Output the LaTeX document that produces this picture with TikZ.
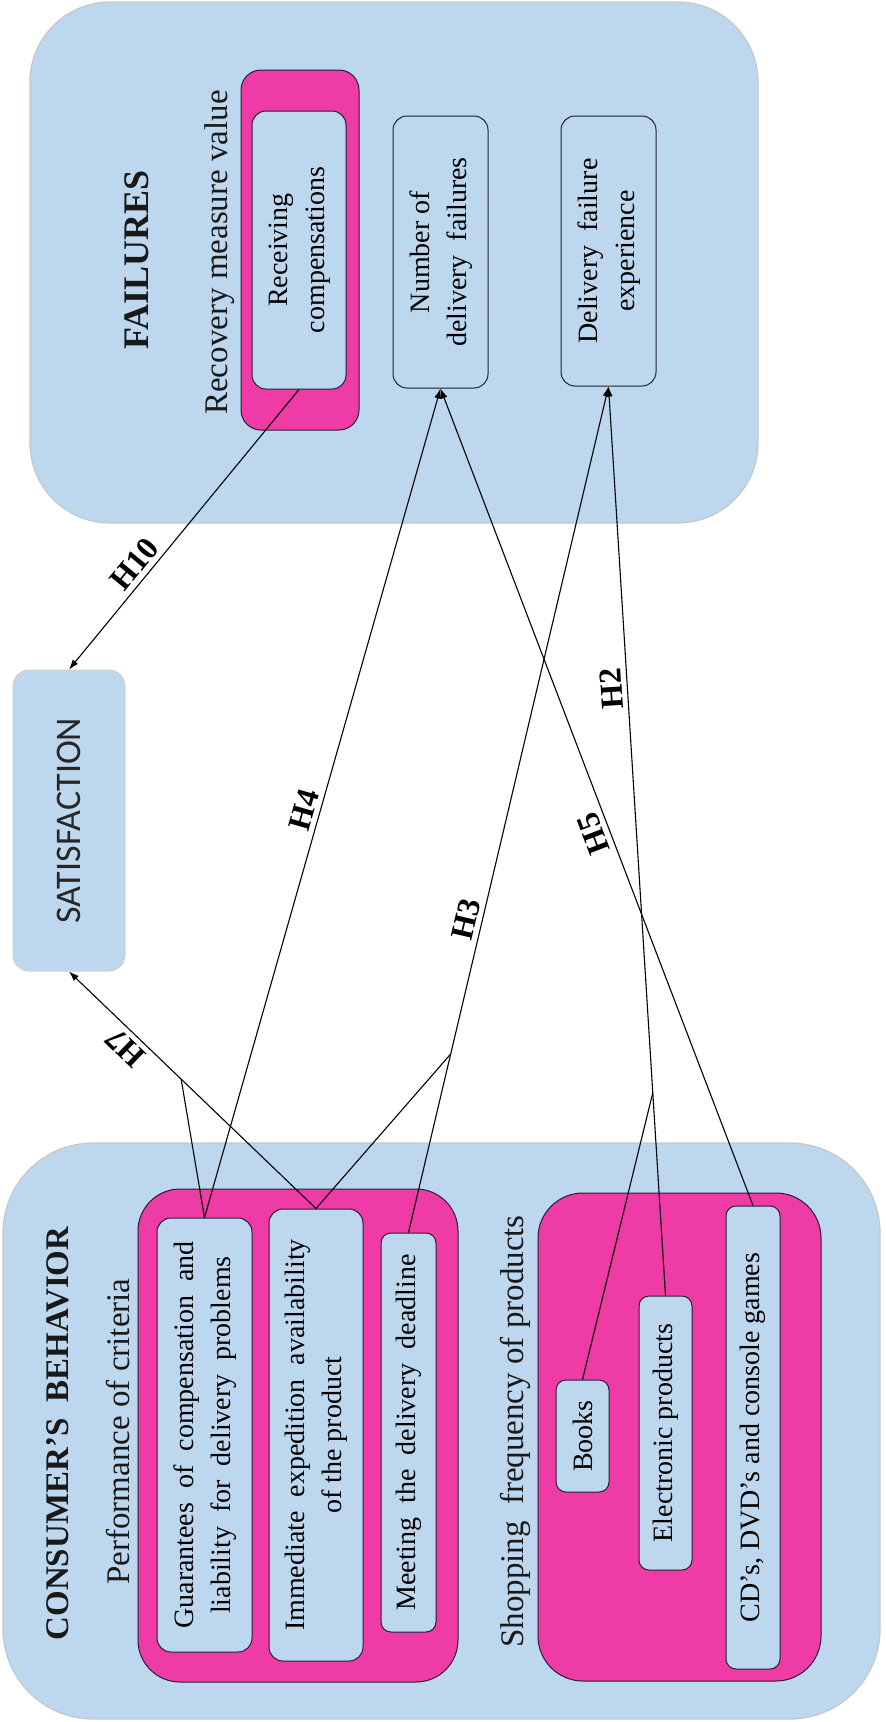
\documentclass[tikz,border=0pt]{standalone}
\usepackage{fontspec}
\setmainfont{Liberation Serif}
\newfontfamily\satfont{Carlito}
\usepackage{graphicx}
\usetikzlibrary{arrows.meta}

\newlength{\du}
\setlength{\du}{1pt}

\definecolor{panelblue}{RGB}{189,215,238}
\definecolor{grouppink}{RGB}{239,59,165}
\definecolor{edgedark}{RGB}{35,30,50}
\definecolor{textdark}{RGB}{25,25,25}

\tikzset{
  panelbox/.style={rectangle, rounded corners=80\du, fill=panelblue, draw=black!22, line width=1.2\du, inner sep=0pt},
  groupbox/.style={rectangle, rounded corners=42\du, fill=grouppink, draw=edgedark, line width=1\du, inner sep=0pt},
  itembox/.style={rectangle, rounded corners=14\du, fill=panelblue, draw=edgedark, line width=1\du, inner sep=0pt, text=black, font=\fontsize{28}{37}\selectfont},
  caption/.style={inner sep=0pt, text=textdark, font=\fontsize{33}{40}\selectfont},
  headline/.style={inner sep=0pt, text=textdark, font=\fontsize{33}{40}\selectfont\bfseries},
  hyplabel/.style={anchor=south, inner sep=5\du, font=\fontsize{32}{36}\selectfont\bfseries},
  hyparrow/.style={line width=1.1\du, -{Latex[length=10pt,width=7pt]}},
  hypmerge/.style={line width=1.1\du},
}

\begin{document}
\begin{tikzpicture}
\pgftransformxscale{1.000000}
\pgftransformyscale{-1.000000}
\useasboundingbox (0\du,0\du) rectangle (886\du,1722\du);
% failures side
\node[panelbox, minimum width=728\du, minimum height=521\du] (failpanel) at (394\du,262.5\du) {};
\node[headline, font=\fontsize{36}{40}\selectfont\bfseries] (failtitle) at (137\du,260\du) {\rotatebox{90}{FAILURES}};
\node[caption] (recovlabel) at (220\du,252.5\du) {\rotatebox{90}{Recovery measure value}};
\node[groupbox, rounded corners=20\du, minimum width=118\du, minimum height=360\du] (recovgroup) at (300\du,250\du) {};
\node[itembox, minimum width=94\du, minimum height=278\du] (receiving) at (299\du,250\du) {\rotatebox{90}{\begin{tabular}{@{}c@{}}Receiving\\compensations\end{tabular}}};
\node[itembox, minimum width=95\du, minimum height=272\du] (numfail) at (440.5\du,252\du) {\rotatebox{90}{\begin{tabular}{@{}c@{}}Number of\\delivery\ \ failures\end{tabular}}};
\node[itembox, minimum width=95\du, minimum height=270\du] (deliv) at (608.5\du,251\du) {\rotatebox{90}{\begin{tabular}{@{}c@{}}Delivery\ \ failure\\experience\end{tabular}}};
% satisfaction
\node[rectangle, rounded corners=16\du, fill=panelblue, draw=black!18, line width=1\du, inner sep=0pt, minimum width=112\du, minimum height=301\du, text=black!85, font=\satfont\fontsize{36}{40}\selectfont] (satisf) at (69\du,820.5\du) {\rotatebox{90}{SATISFACTION}};
% consumer side
\node[panelbox, rounded corners=90\du, minimum width=877\du, minimum height=576\du] (conspanel) at (441.5\du,1431\du) {};
\node[headline] (constitle) at (58\du,1433.5\du) {\rotatebox{90}{CONSUMER’S\ \ BEHAVIOR}};
\node[caption] (perflabel) at (118\du,1431.5\du) {\rotatebox{90}{Performance of criteria}};
\node[groupbox, minimum width=320\du, minimum height=493\du] (perfgroup) at (298\du,1435.5\du) {};
\node[itembox, minimum width=95\du, minimum height=434\du] (guar) at (204.5\du,1435\du) {\rotatebox{90}{\begin{tabular}{@{}c@{}}Guarantees\ \ of\ \ compensation\ \ and\\liability\ \ for\ \ delivery\ \ problems\end{tabular}}};
\node[itembox, minimum width=94\du, minimum height=452\du] (immed) at (316\du,1435\du) {\rotatebox{90}{\begin{tabular}{@{}c@{}}Immediate\ \ expedition\ \ availability\\of the product\end{tabular}}};
\node[itembox, rounded corners=10\du, minimum width=55\du, minimum height=399\du] (meet) at (408.5\du,1432.5\du) {\rotatebox{90}{Meeting\ \ the\ \ delivery\ \ deadline}};
\node[caption] (shoplabel) at (515\du,1431.5\du) {\rotatebox{90}{Shopping\ \ frequency of products}};
\node[groupbox, rounded corners=45\du, minimum width=283\du, minimum height=488\du] (shopgroup) at (679.5\du,1437\du) {};
\node[itembox, rounded corners=10\du, minimum width=53\du, minimum height=112\du] (books) at (582.5\du,1436\du) {\rotatebox{90}{Books}};
\node[itembox, rounded corners=10\du, minimum width=53\du, minimum height=274\du] (elec) at (665.5\du,1433\du) {\rotatebox{90}{Electronic products}};
\node[itembox, rounded corners=10\du, minimum width=54\du, minimum height=463\du] (cds) at (753\du,1437.5\du) {\rotatebox{90}{CD’s, DVD’s and console games}};
% hypotheses
\draw[hyparrow] (receiving.south) -- node[hyplabel, pos=0.661, rotate=50.7] (h10) {H10} (satisf.north);
\draw[hyparrow] (immed.north) -- coordinate[pos=0.546] (m7) node[hyplabel, pos=0.725, rotate=136.1] (h7) {H7} (satisf.south);
\draw[hypmerge] (guar.north) -- (m7);
\draw[hyparrow] (guar.north) -- node[hyplabel, pos=0.486, rotate=74.2] (h4) {H4} (numfail.south);
\draw[hyparrow] (cds.north) -- node[hyplabel, pos=0.462, rotate=110.9] (h5) {H5} (numfail.south);
\draw[hyparrow] (meet.north) -- coordinate[pos=0.211] (m3) node[hyplabel, pos=0.366, rotate=76.7] (h3) {H3} (deliv.south);
\draw[hypmerge] (immed.north) -- (m3);
\draw[hyparrow] (elec.north) -- coordinate[pos=0.223] (m2) node[hyplabel, pos=0.669, rotate=93.6] (h2) {H2} (deliv.south);
\draw[hypmerge] (books.north) -- (m2);
\end{tikzpicture}
\end{document}
